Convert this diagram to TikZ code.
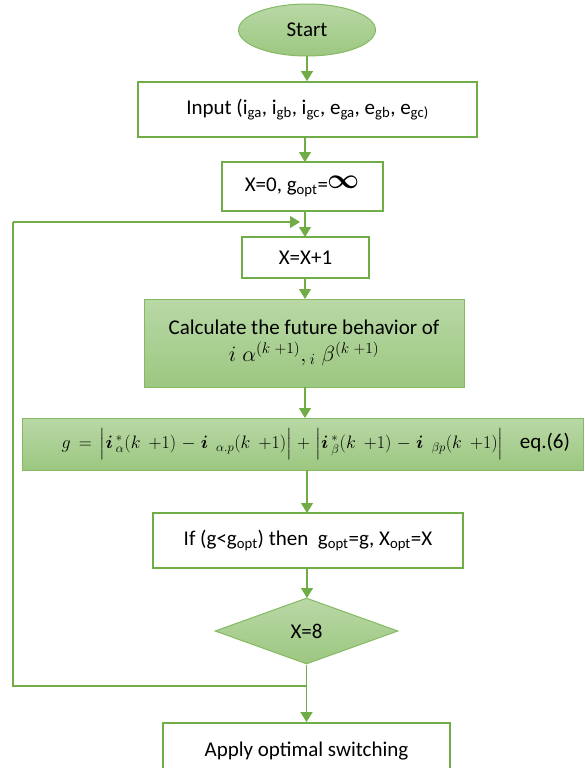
\RequirePackage{fix-cm}
\documentclass[tikz,border=0pt]{standalone}
\usepackage{amsmath}
\usepackage{fontspec}
\setmainfont{Carlito}
\usetikzlibrary{shapes.geometric,arrows.meta}
\definecolor{ogreen}{RGB}{112,173,71}
\definecolor{gtop}{RGB}{185,216,166}
\definecolor{gbot}{RGB}{156,199,128}
\newcommand{\kpo}{(k\;{+}1)}
\tikzset{
  x=1pt,y=-1pt,
  every node/.style={font=\fontsize{21}{25}\selectfont, inner sep=2pt},
  plainbox/.style={draw=ogreen, line width=1.8pt, fill=white, rectangle},
  shadebox/.style={draw=ogreen!85!white, line width=1pt, top color=gtop, bottom color=gbot},
  flow/.style={draw=ogreen, line width=1.2pt, -{Triangle[width=12pt,length=10pt]}},
  flowline/.style={draw=ogreen, line width=1.2pt},
}
\begin{document}
\begin{tikzpicture}
\useasboundingbox (0,0) rectangle (584,768);
\node[shadebox, ellipse, minimum width=137pt, minimum height=52pt, inner sep=0pt] (start) at (307,30) {Start};
\node[plainbox, minimum width=339pt, minimum height=55pt] (input) at (307.5,109.5)
  {Input (i\textsubscript{ga}, i\textsubscript{gb}, i\textsubscript{gc}, e\textsubscript{ga}, e\textsubscript{gb}, e\textsubscript{gc)}};
\node[plainbox, minimum width=161pt, minimum height=49pt] (init) at (302.5,186.5)
  {X=0, g\textsubscript{opt}=\raisebox{3pt}{\fontsize{28}{28}\selectfont$\boldsymbol{\infty}$}};
\node[plainbox, minimum width=127pt, minimum height=41pt] (incr) at (305.5,257.5) {X=X+1};
\node[shadebox, rectangle, minimum width=320pt, minimum height=88pt, align=center] (calc) at (304,343)
  {Calculate the future behavior of\\[2pt]
   {\fontsize{22}{25}\selectfont$i\;\alpha^{\kpo},{}_{i}\;\beta^{\kpo}$}};
\node[shadebox, rectangle, minimum height=52pt, text width=535pt, inner xsep=13pt, align=right] (cost) at (302.5,444)
  {{\fontsize{18}{22}\selectfont$g = \Big|\boldsymbol{i}\,{}^{*}_{\alpha}\kpo-\boldsymbol{i}\;{}_{\alpha.p}\kpo\Big|+\Big|\boldsymbol{i}\,{}^{*}_{\beta}\kpo-\boldsymbol{i}\;{}_{\beta p}\kpo\Big|$}\;\, eq.(6)};
\node[plainbox, minimum width=310pt, minimum height=55pt] (cond) at (308,540.5)
  {If (g{<}g\textsubscript{opt}) then\ \ g\textsubscript{opt}=g, X\textsubscript{opt}=X};
\node[shadebox, diamond, aspect=2.77, minimum width=183pt, minimum height=66pt, inner sep=0pt] (test) at (306.5,631) {};
\node at (test.center) {X=8};
\node[plainbox, minimum width=287pt, minimum height=57pt] (apply) at (306.5,751.5) {Apply optimal switching};
\coordinate (j1) at (307,686);
\coordinate (loopin) at (300,222);
\draw[flow] (start.south) -- (start.south |- input.north);
\draw[flow] (305,137) -- (305,162);
\draw[flow] (305,211) -- (305,237);
\draw[flow] (305,278) -- (305,299);
\draw[flow] (305,387) -- (305,418);
\draw[flow] (307,470) -- (307,513);
\draw[flow] (307,568) -- (307,598);
\draw[flow] (test.south) -- (test.south |- apply.north);
\draw[flowline] (j1) -- (13,686) -- (13,222);
\draw[flow] (13,222) -- (loopin);
\end{tikzpicture}
\end{document}
